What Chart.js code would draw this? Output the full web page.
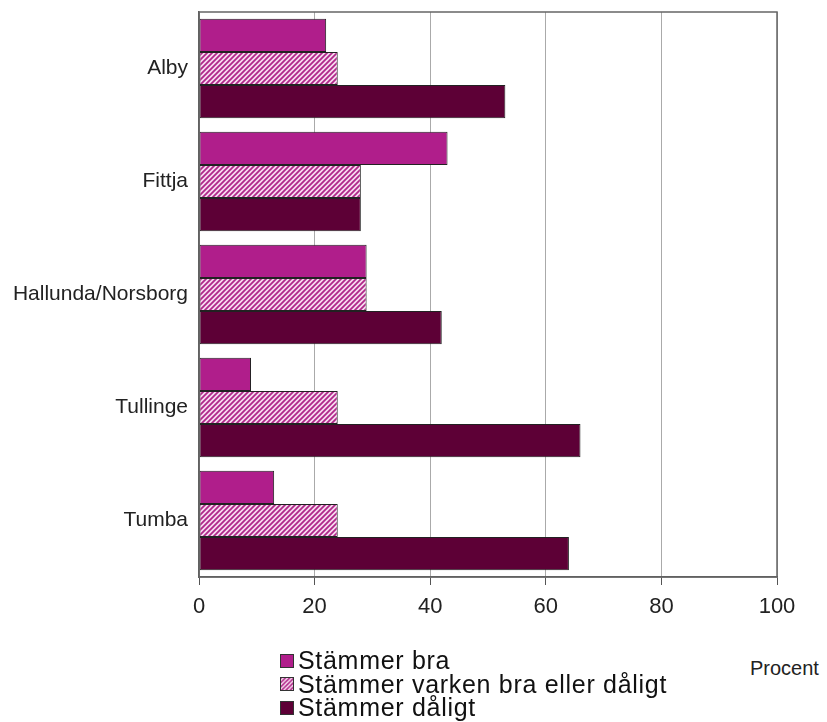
<!DOCTYPE html>
<html>
<head>
<meta charset="utf-8">
<script src="https://cdn.jsdelivr.net/npm/chart.js@4/dist/chart.umd.min.js"></script>
<style>
  body { margin: 0; background: #fff; font-family: "Liberation Sans", Arial, sans-serif; }
  #wrap { position: relative; width: 827px; height: 722px; }
  #legend { position: absolute; left: 280px; top: 649px; font-size: 25px; letter-spacing: 0.7px; color: #111; line-height: 23.5px; }
  .item { display: flex; align-items: center; }
  .sw { width: 14px; height: 14px; border: 1px solid #333; margin-right: 4px; box-sizing: border-box; }
  #procent { position: absolute; left: 750px; top: 657px; font-size: 20px; color: #222; }
</style>
</head>
<body>
<div id="wrap">
  <canvas id="chart" width="827" height="630"></canvas>
  <div id="legend"></div>
  <div id="procent">Procent</div>
</div>
<script>
const categories = ['Alby', 'Fittja', 'Hallunda/Norsborg', 'Tullinge', 'Tumba'];
const seriesNames = ['Stämmer bra', 'Stämmer varken bra eller dåligt', 'Stämmer dåligt'];
const bra = [22, 43, 29, 9, 13];
const varken = [24, 28, 29, 24, 24];
const daligt = [53, 28, 42, 66, 64];
const xTicks = [0, 20, 40, 60, 80, 100];

function hatch() {
    const c = document.createElement('canvas');
    c.width = 5; c.height = 5;
    const g = c.getContext('2d');
    g.fillStyle = '#f7dcf0';
    g.fillRect(0, 0, 5, 5);
    g.strokeStyle = '#b0278a';
    g.lineWidth = 1.8;
    g.beginPath();
    g.moveTo(0, 5); g.lineTo(5, 0);
    g.moveTo(-1, 1); g.lineTo(1, -1);
    g.moveTo(4, 6); g.lineTo(6, 4);
    g.stroke();
    return document.getElementById('chart').getContext('2d').createPattern(c, 'repeat');
}

const colors = ['#b01e8b', hatch(), '#5d0036'];

// ram runt ritytan
const frame = {
    id: 'frame',
    afterDraw(chart) {
        const a = chart.chartArea;
        const ctx = chart.ctx;
        ctx.save();
        ctx.strokeStyle = '#666';
        ctx.lineWidth = 1.5;
        ctx.strokeRect(a.left, a.top, a.right - a.left, a.bottom - a.top);
        ctx.restore();
    }
};

new Chart(document.getElementById('chart'), {
    type: 'bar',
    data: {
        labels: categories,
        datasets: [
            { label: seriesNames[0], data: bra, backgroundColor: colors[0] },
            { label: seriesNames[1], data: varken, backgroundColor: colors[1] },
            { label: seriesNames[2], data: daligt, backgroundColor: colors[2] }
        ].map(d => Object.assign(d, { borderColor: '#222', borderWidth: 1, borderSkipped: false, categoryPercentage: 0.88, barPercentage: 1 }))
    },
    options: {
        indexAxis: 'y',
        responsive: false,
        animation: false,
        layout: { padding: { top: 12, right: 50, left: 0, bottom: 0 } },
        plugins: { legend: { display: false }, tooltip: { enabled: false } },
        scales: {
            x: {
                min: 0, max: 100,
                afterBuildTicks: s => { s.ticks = xTicks.map(v => ({ value: v })); },
                afterFit: s => { s.height = 53; },
                grid: { color: '#aaa', lineWidth: 1, tickLength: 8, tickColor: '#555' },
                border: { color: '#555', width: 1.5 },
                ticks: { color: '#222', font: { family: 'Liberation Sans', size: 22 }, padding: 9 }
            },
            y: {
                afterFit: s => { s.width = 199; s.paddingTop = 0; s.paddingBottom = 0; },
                grid: { display: false },
                border: { color: '#555', width: 1.5 },
                ticks: { color: '#222', font: { family: 'Liberation Sans', size: 21 }, padding: 3 }
            }
        }
    },
    plugins: [frame]
});

const legend = document.getElementById('legend');
seriesNames.forEach((name, i) => {
    const row = document.createElement('div');
    row.className = 'item';
    const sw = document.createElement('canvas');
    sw.className = 'sw';
    sw.width = 14; sw.height = 14;
    const g = sw.getContext('2d');
    g.fillStyle = colors[i];
    g.fillRect(0, 0, 14, 14);
    row.appendChild(sw);
    row.appendChild(document.createTextNode(name));
    legend.appendChild(row);
});
</script>
</body>
</html>
